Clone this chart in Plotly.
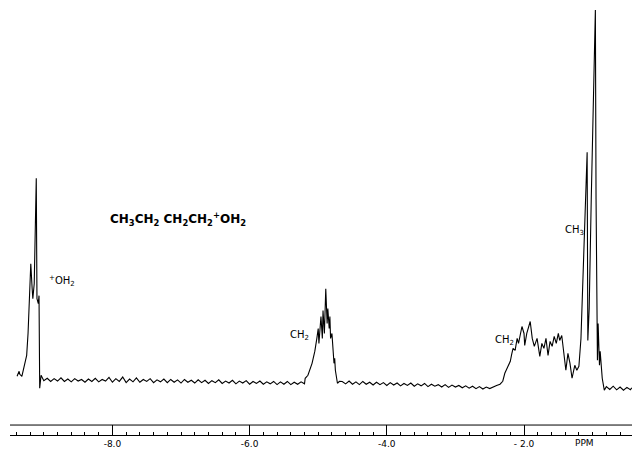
import plotly.graph_objects as go

# ---- spectrum data (chemical shift in ppm, relative intensity) ----
# +OH2 multiplet
oh2_ppm = [-9.39, -9.36, -9.35, -9.32, -9.27, -9.25, -9.23, -9.20, -9.19, -9.17, -9.16,
           -9.14, -9.13, -9.11, -9.10, -9.08, -9.07, -9.06, -9.04]
oh2_int = [3.5, 4.75, 4.0, 3.5, 7.25, 8.75, 14.25, 25.5, 31.75, 25.5, 23.0,
           26.75, 38.0, 53.25, 23.0, 21.75, 23.75, 0.5, 3.75]

# baseline between +OH2 and CH2 (-9.0 .. -5.2 ppm)
base1_ppm = [-9.00, -8.95, -8.90, -8.85, -8.80, -8.75, -8.70, -8.65, -8.60, -8.55,
             -8.50, -8.45, -8.40, -8.35, -8.30, -8.25, -8.20, -8.15, -8.10, -8.05,
             -8.00, -7.95, -7.90, -7.85, -7.80, -7.75, -7.70, -7.65, -7.60, -7.55,
             -7.50, -7.45, -7.40, -7.35, -7.30, -7.25, -7.20, -7.15, -7.10, -7.05,
             -7.00, -6.95, -6.90, -6.85, -6.80, -6.75, -6.70, -6.65, -6.60, -6.55,
             -6.50, -6.45, -6.40, -6.35, -6.30, -6.25, -6.20, -6.15, -6.10, -6.05,
             -6.00, -5.95, -5.90, -5.85, -5.80, -5.75, -5.70, -5.65, -5.60, -5.55,
             -5.50, -5.45, -5.40, -5.35, -5.30, -5.25, -5.20]
base1_int = [2.4, 3.0, 2.2, 2.9, 2.3, 3.1, 2.2, 2.8, 2.1, 2.9,
             2.3, 2.7, 2.0, 2.8, 2.2, 3.0, 2.1, 2.7, 2.3, 3.2,
             2.0, 2.9, 2.2, 3.3, 1.9, 2.8, 2.1, 3.1, 2.0, 2.7,
             2.2, 2.9, 1.9, 2.6, 2.1, 2.8, 1.9, 2.7, 2.0, 2.6,
             1.8, 2.7, 2.0, 2.5, 1.8, 2.6, 1.9, 2.5, 1.7, 2.4,
             1.9, 2.6, 1.7, 2.3, 1.8, 2.5, 1.6, 2.3, 1.8, 2.4,
             1.5, 2.2, 1.7, 2.3, 1.5, 2.1, 1.6, 2.2, 1.4, 2.1,
             1.5, 2.2, 1.4, 2.0, 1.5, 2.1, 1.6]

# CH2 multiplet near -4.9 ppm
ch2a_ppm = [-5.19, -5.15, -5.09, -5.05, -5.02, -5.00, -4.99, -4.96, -4.94, -4.93, -4.91,
            -4.89, -4.87, -4.86, -4.84, -4.83, -4.82, -4.80, -4.77, -4.76, -4.75, -4.72, -4.69]
ch2a_int = [3.0, 3.75, 6.75, 9.75, 13.0, 15.5, 11.75, 18.5, 13.0, 20.0, 14.25,
            25.5, 16.75, 20.5, 15.5, 18.5, 13.0, 14.25, 6.75, 8.0, 5.0, 1.75, 2.25]

# baseline between the CH2 groups (-4.65 .. -2.40 ppm)
base2_ppm = [-4.65, -4.60, -4.55, -4.50, -4.45, -4.40, -4.35, -4.30, -4.25, -4.20,
             -4.15, -4.10, -4.05, -4.00, -3.95, -3.90, -3.85, -3.80, -3.75, -3.70,
             -3.65, -3.60, -3.55, -3.50, -3.45, -3.40, -3.35, -3.30, -3.25, -3.20,
             -3.15, -3.10, -3.05, -3.00, -2.95, -2.90, -2.85, -2.80, -2.75, -2.70,
             -2.65, -2.60, -2.55, -2.50, -2.45, -2.40]
base2_int = [2.2, 1.6, 2.3, 1.5, 2.1, 1.4, 2.2, 1.5, 2.0, 1.3,
             2.0, 1.4, 1.9, 1.2, 1.9, 1.3, 1.8, 1.1, 1.7, 1.2,
             1.8, 1.0, 1.6, 1.1, 1.7, 0.9, 1.5, 1.0, 1.4, 0.8,
             1.4, 0.7, 1.3, 0.8, 1.2, 0.6, 1.1, 0.5, 1.0, 0.4,
             0.9, 0.3, 0.8, 0.4, 0.9, 1.2]

# broad CH2 multiplet near -1.7 ppm
ch2b_ppm = [-2.35, -2.31, -2.28, -2.23, -2.20, -2.18, -2.16, -2.13, -2.10, -2.08,
            -2.03, -2.00, -1.99, -1.96, -1.91, -1.88, -1.85, -1.81, -1.77, -1.74,
            -1.71, -1.68, -1.65, -1.62, -1.59, -1.56, -1.53, -1.50, -1.48, -1.45,
            -1.42, -1.39, -1.36, -1.33, -1.30, -1.29, -1.26, -1.23, -1.20]
ch2b_int = [1.5, 2.25, 4.25, 6.0, 7.25, 9.0, 10.5, 10.0, 13.0, 11.75,
            16.0, 14.25, 11.25, 14.25, 17.25, 13.0, 11.0, 13.0, 8.5, 11.75,
            10.5, 13.0, 8.75, 12.25, 11.0, 13.5, 11.75, 14.25, 12.5, 13.75,
            9.25, 5.0, 9.25, 6.75, 3.0, 3.75, 6.25, 5.0, 6.0]

# CH3 triplet
ch3_ppm = [-1.17, -1.14, -1.11, -1.08, -1.07, -1.05, -1.02, -0.99, -0.96, -0.95,
           -0.93, -0.92, -0.90, -0.89, -0.87, -0.86, -0.83]
ch3_int = [13.0, 28.0, 48.0, 59.75, 12.5, 20.5, 48.0, 75.5, 95.5, 48.0,
           7.5, 16.75, 6.25, 9.75, 5.0, 3.0, 0.0]

# baseline at high field
base3_ppm = [-0.80, -0.75, -0.70, -0.65, -0.60, -0.55, -0.50, -0.45, -0.43]
base3_int = [0.9, 0.2, 1.0, 0.1, 0.8, 0.0, 0.7, 0.1, 0.6]

ppm = oh2_ppm + base1_ppm + ch2a_ppm + base2_ppm + ch2b_ppm + ch3_ppm + base3_ppm
intensity = oh2_int + base1_int + ch2a_int + base2_int + ch2b_int + ch3_int + base3_int

major_ticks = [-8.0, -6.0, -4.0, -2.0]
major_labels = ["-8.0", "-6.0", "-4.0", "- 2.0"]

fig = go.Figure()
fig.add_trace(go.Scatter(x=ppm, y=intensity, mode="lines",
                         line=dict(color="black", width=1.1), hoverinfo="skip",
                         showlegend=False))

lab_font = dict(family="DejaVu Sans", size=10, color="black")
fig.add_annotation(x=-8.06, y=43, xanchor="left", yanchor="middle", showarrow=False,
                   text="<b>CH<sub>3</sub>CH<sub>2</sub> CH<sub>2</sub>CH<sub>2</sub><sup>+</sup>OH<sub>2</sub></b>",
                   font=dict(family="DejaVu Sans", size=12, color="black"))
fig.add_annotation(x=-8.95, y=27.5, xanchor="left", yanchor="middle", showarrow=False,
                   text="<sup>+</sup>OH<sub>2</sub>", font=lab_font)
fig.add_annotation(x=-5.44, y=13.75, xanchor="left", yanchor="middle", showarrow=False,
                   text="CH<sub>2</sub>", font=lab_font)
fig.add_annotation(x=-2.45, y=12.5, xanchor="left", yanchor="middle", showarrow=False,
                   text="CH<sub>2</sub>", font=lab_font)
fig.add_annotation(x=-1.43, y=40, xanchor="left", yanchor="middle", showarrow=False,
                   text="CH<sub>3</sub>", font=lab_font)
fig.add_annotation(x=-1.28, y=0, yref="paper", xanchor="left", yanchor="top", showarrow=False,
                   yshift=-1, text="PPM", font=dict(family="DejaVu Sans", size=9, color="black"))

# upper rule of the ppm scale
fig.add_shape(type="line", xref="paper", yref="paper", x0=0, x1=1, y0=0.0229, y1=0.0229,
              line=dict(color="black", width=1))

fig.update_xaxes(range=[-9.493, -0.426], showgrid=False, zeroline=False,
                 showline=True, linecolor="black", linewidth=1,
                 tickmode="array", tickvals=major_ticks, ticktext=major_labels,
                 ticks="inside", ticklen=10, tickcolor="black", tickwidth=1,
                 tickfont=dict(family="DejaVu Sans", size=9, color="black"),
                 minor=dict(ticks="inside", ticklen=3, tickcolor="black", dtick=0.2, tick0=0,
                            showgrid=False))
fig.update_yaxes(range=[-11.25, 98], visible=False, showgrid=False, zeroline=False)

fig.update_layout(width=632, height=449, margin=dict(l=10, r=0, t=0, b=12),
                  plot_bgcolor="white", paper_bgcolor="white")

fig.write_html("out.html", config={"displayModeBar": False},
               post_script="document.body.style.margin='0px';")
